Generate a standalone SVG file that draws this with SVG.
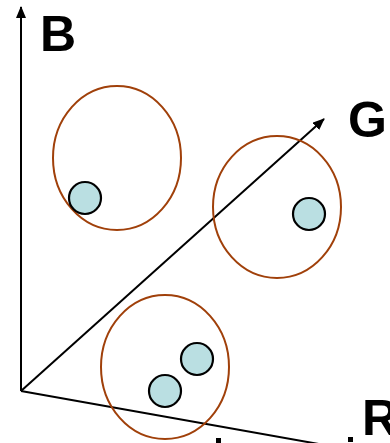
<svg xmlns="http://www.w3.org/2000/svg" width="390" height="443" viewBox="0 0 390 443">
<style>
.axis{stroke:#000;stroke-width:2;fill:none}
.cluster{fill:none;stroke:#A0400A;stroke-width:2}
.pt{fill:#BADFE2;stroke:#000;stroke-width:2.2}
.lbl{font-family:"Liberation Sans",Arial,sans-serif;font-weight:bold;font-size:50px;fill:#000}
</style>
<defs>
<marker id="arr" viewBox="0 0 12 10" refX="11" refY="5" markerWidth="12" markerHeight="10" markerUnits="userSpaceOnUse" orient="auto">
<path d="M0,0 L12,5 L0,10 Z" fill="#000"/>
</marker>
</defs>
<rect width="390" height="443" fill="#fff"/>
<g id="connectors">
<line class="axis" x1="21" y1="391" x2="21" y2="7" marker-end="url(#arr)"/>
<line class="axis" x1="21" y1="391" x2="324" y2="119" marker-end="url(#arr)"/>
<line class="axis" x1="21" y1="391" x2="330" y2="446"/>
</g>
<g id="label-B"><text class="lbl" x="40" y="51">B</text></g>
<g id="label-G"><text class="lbl" x="348" y="137">G</text></g>
<g id="label-R"><text class="lbl" x="362" y="435">R</text></g>
<g id="cluster1"><ellipse class="cluster" cx="117" cy="158" rx="64" ry="72"/></g>
<g id="cluster2"><ellipse class="cluster" cx="277" cy="207" rx="64" ry="71"/></g>
<g id="cluster3"><ellipse class="cluster" cx="165" cy="367" rx="64" ry="72"/></g>
<g id="point1"><circle class="pt" cx="85" cy="198" r="16"/></g>
<g id="point2"><circle class="pt" cx="309" cy="214" r="16"/></g>
<g id="point3"><circle class="pt" cx="197" cy="359" r="16"/></g>
<g id="point4"><circle class="pt" cx="165" cy="391" r="16"/></g>
<g id="marks">
<rect x="216" y="438" width="5" height="5" fill="#000"/>
<rect x="348" y="437" width="5" height="5" fill="#000"/>
</g>
</svg>
